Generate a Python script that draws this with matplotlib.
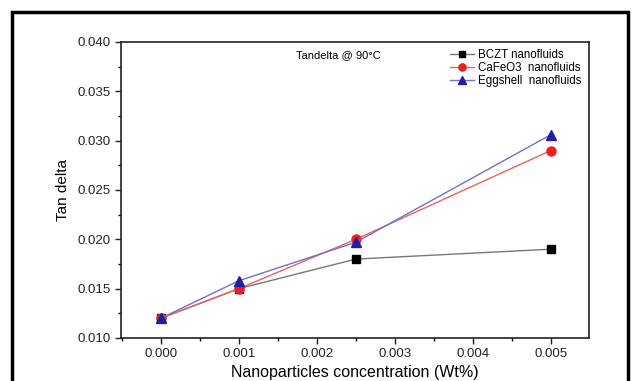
import numpy as np
import matplotlib.pyplot as plt
from matplotlib.patches import Rectangle

plt.rcParams['font.family'] = ['Liberation Sans', 'DejaVu Sans']

conc = [0.0, 0.001, 0.0025, 0.005]
bczt = [0.012, 0.015, 0.018, 0.019]
cafeo3 = [0.012, 0.015, 0.020, 0.029]
eggshell = [0.012, 0.0158, 0.0197, 0.0306]
xticks = [0.0, 0.001, 0.002, 0.003, 0.004, 0.005]
yticks = [0.010, 0.015, 0.020, 0.025, 0.030, 0.035, 0.040]

fig = plt.figure(figsize=(6.35, 3.81), dpi=100)
ax = fig.add_axes([121/635, 1 - 338/381, (589-121)/635, (338-42)/381])

ax.plot(conc, bczt, color='#777777', lw=1.0, marker='s', ms=6,
        mfc='black', mec='black', label='BCZT nanofluids')
ax.plot(conc, cafeo3, color='#f06060', lw=1.0, marker='o', ms=6.5,
        mfc='#e82020', mec='#e82020', label='CaFeO3  nanofluids')
ax.plot(conc, eggshell, color='#7070c8', lw=1.0, marker='^', ms=6.5,
        mfc='#2020a0', mec='#2020a0', label='Eggshell  nanofluids')

ax.set_xlim(-0.00051, 0.00549)
ax.set_ylim(0.010, 0.040)
ax.set_xticks(xticks)
ax.set_xticklabels(['%.3f' % v for v in xticks])
ax.set_yticks(yticks)
ax.set_yticklabels(['%.3f' % v for v in yticks])
ax.set_xticks(np.arange(-0.0005, 0.0055, 0.001), minor=True)
ax.set_yticks(np.arange(0.0125, 0.040, 0.005), minor=True)
ax.tick_params(which='major', direction='out', length=4, width=1, labelsize=9.5, colors='#222222')
ax.tick_params(which='minor', direction='out', length=2.5, width=1)
for s in ax.spines.values():
    s.set_linewidth(1.2)
    s.set_color('#222222')

ax.set_xlabel('Nanoparticles concentration (Wt%)', fontsize=11.5, labelpad=3)
ax.set_ylabel('Tan delta', fontsize=11, labelpad=5)
ax.text(0.00228, 0.0387, 'Tandelta @ 90°C', fontsize=8, ha='center', va='center')

ax.legend(loc='upper right', frameon=False, fontsize=8.3, handlelength=2.0,
          handletextpad=0.4, labelspacing=0.08, borderaxespad=0.25,
          markerscale=0.8, bbox_to_anchor=(1.0, 1.0))

fig.patches.append(Rectangle((12/635, -0.1), (628-12)/635, 1 - 12/381 + 0.1,
                             transform=fig.transFigure, fill=False,
                             lw=2.5, ec='black', figure=fig))

fig.savefig('out.png', dpi=100)
